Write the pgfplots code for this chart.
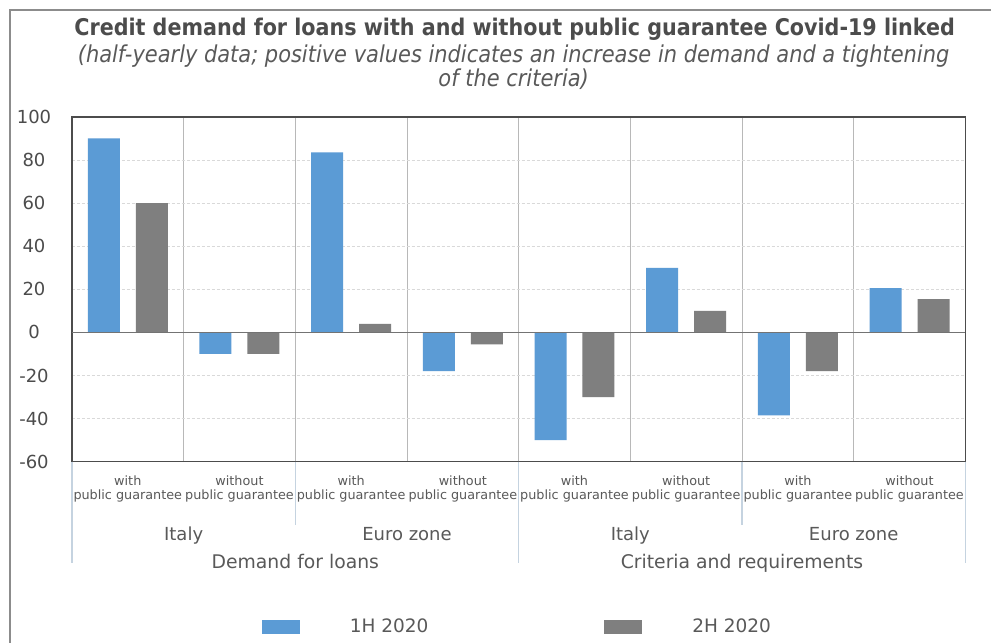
\documentclass[border=0pt]{standalone}
\usepackage{pgfplots}
\pgfplotsset{compat=1.18}
\usepackage{fontspec}
\setmainfont{DejaVu Sans}
\newfontfamily\titlefont{DejaVu Sans Condensed}
\definecolor{bblue}{HTML}{5B9BD5}
\definecolor{bgray}{HTML}{7F7F7F}
\definecolor{txt}{HTML}{595959}
\definecolor{sepc}{HTML}{C5D3E0}
\begin{document}
\begin{tikzpicture}[x=1pt,y=1pt]
\path[fill=white] (0,0) rectangle (992,643);
\draw[color=black!45, line width=1.3pt] (10,0) -- (10,633) -- (992,633);
\node[font=\titlefont\bfseries\fontsize{23}{26}\selectfont, text=black!70] at (515,614) {Credit demand for loans with and without public guarantee Covid-19 linked};
\node[font=\titlefont\itshape\fontsize{23.3}{24}\selectfont, text=txt, align=center] at (514,576) {(half-yearly data; positive values indicates an increase in demand and a tightening\\of the criteria)};
\begin{axis}[at={(72pt,181pt)}, anchor=south west, scale only axis,
  width=894pt, height=345pt,
  xmin=0, xmax=8, ymin=-60, ymax=100,
  ytick={-60,-40,...,100},
  xtick={0.5,1.5,...,7.5},
  xticklabels={{with\\public guarantee},{without\\public guarantee},{with\\public guarantee},{without\\public guarantee},{with\\public guarantee},{without\\public guarantee},{with\\public guarantee},{without\\public guarantee}},
  minor xtick={1,...,7},
  xminorgrids, ymajorgrids,
  minor grid style={color=black!28, line width=0.9pt},
  major grid style={color=black!15, line width=0.9pt, densely dashed},
  major tick length=0pt, minor tick length=0pt,
  axis line style={color=black!70, line width=1.3pt},
  clip=false,
  /pgf/number format/assume math mode=true,
  yticklabel style={font=\fontsize{18}{20}\selectfont, text=black!70, anchor=center, xshift=-38pt},
  xticklabel style={font=\fontsize{12.8}{13.5}\selectfont, text=txt, align=center, yshift=-11pt},
  legend columns=2,
  legend style={draw=none, fill=none, at={(0.2125,-0.478)}, anchor=west,
    font=\fontsize{18.5}{20}\selectfont, text=txt, inner sep=0pt,
    /tikz/every even column/.append style={column sep=174pt}},
]
\addplot[ybar, bar width=32pt, bar shift=-24pt, fill=bblue, draw=none,
  legend image code/.code={\fill[bblue] (0pt,-7pt) rectangle (38pt,7pt); \path[draw=none,fill=none] (0pt,0pt) rectangle (86pt,0.1pt);}]
  coordinates {(0.5,90) (1.5,-10) (2.5,83.5) (3.5,-18) (4.5,-50) (5.5,30) (6.5,-38.5) (7.5,20.5)};
\addlegendentry{1H 2020}
\addplot[ybar, bar width=32pt, bar shift=24pt, fill=bgray, draw=none,
  legend image code/.code={\fill[bgray] (0pt,-7pt) rectangle (38pt,7pt); \path[draw=none,fill=none] (0pt,0pt) rectangle (86pt,0.1pt);}]
  coordinates {(0.5,60) (1.5,-10) (2.5,4) (3.5,-5.5) (4.5,-30) (5.5,10) (6.5,-18) (7.5,15.5)};
\addlegendentry{2H 2020}
\draw[black!55, line width=1.3pt] (axis cs:0,0) -- (axis cs:8,0);
\draw[sepc, line width=1.5pt] (axis cs:0,-60) -- ++(0pt,-101pt);
\draw[sepc, line width=1.5pt] (axis cs:4,-60) -- ++(0pt,-101pt);
\draw[sepc, line width=1.5pt] (axis cs:8,-60) -- ++(0pt,-101pt);
\draw[sepc, line width=1.5pt] (axis cs:2,-60) -- ++(0pt,-63pt);
\draw[sepc, line width=1.5pt] (axis cs:6,-60) -- ++(0pt,-63pt);
\node[anchor=base, font=\fontsize{18}{20}\selectfont, text=txt] at ([yshift=-79pt]axis cs:1,-60) {Italy};
\node[anchor=base, font=\fontsize{18}{20}\selectfont, text=txt] at ([yshift=-79pt]axis cs:3,-60) {Euro zone};
\node[anchor=base, font=\fontsize{18}{20}\selectfont, text=txt] at ([yshift=-79pt]axis cs:5,-60) {Italy};
\node[anchor=base, font=\fontsize{18}{20}\selectfont, text=txt] at ([yshift=-79pt]axis cs:7,-60) {Euro zone};
\node[anchor=base, font=\fontsize{18.8}{20}\selectfont, text=txt] at ([yshift=-107pt]axis cs:2,-60) {Demand for loans};
\node[anchor=base, font=\fontsize{18.8}{20}\selectfont, text=txt] at ([yshift=-107pt]axis cs:6,-60) {Criteria and requirements};
\end{axis}
\end{tikzpicture}
\end{document}
